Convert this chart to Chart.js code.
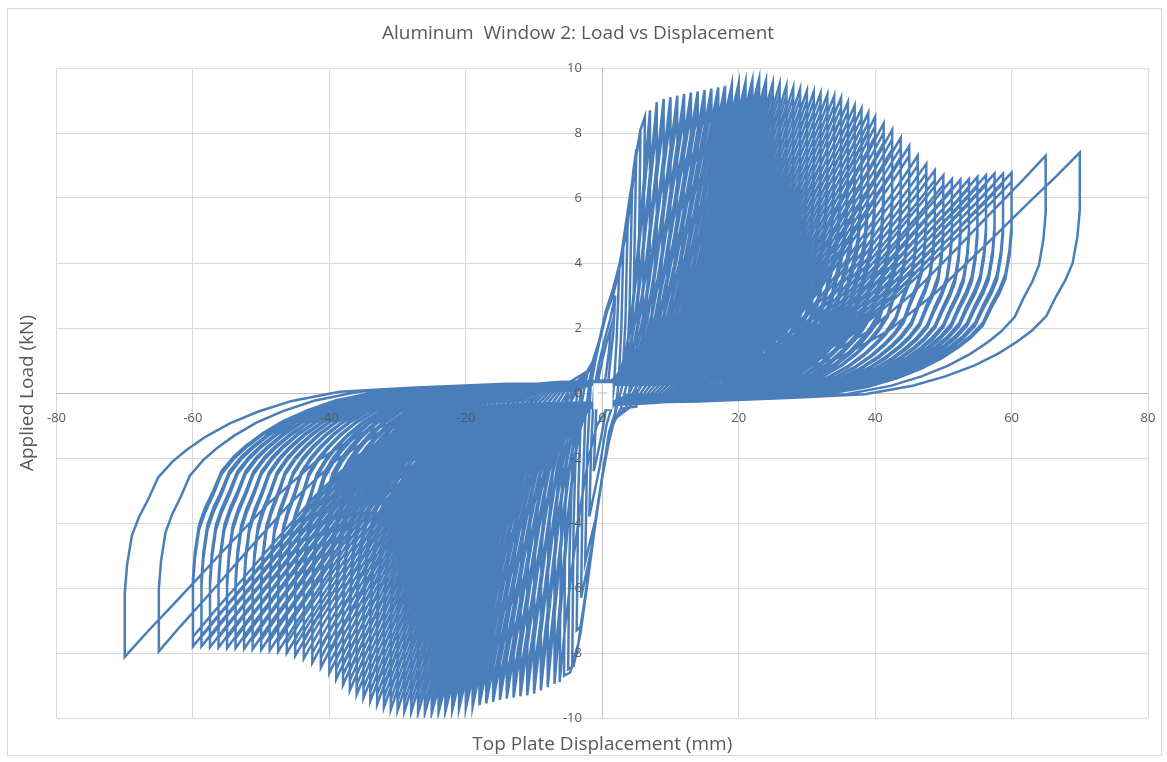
<!DOCTYPE html>
<html><head><meta charset="utf-8">
<script src="https://cdn.jsdelivr.net/npm/chart.js@4"></script>
<style>
html,body{margin:0;padding:0;background:#fff}
#wrap{position:relative;width:1167px;height:762px}
canvas{display:block}
#frame{position:absolute;left:7px;top:8px;width:1155px;height:748px;border:1px solid #d9d9d9;box-sizing:border-box;pointer-events:none}
</style>
</head><body>
<div id="wrap"><canvas id="c" width="1167" height="762"></canvas><div id="frame"></div></div>
<script>
// Axis ticks
const xTicks = [-80, -60, -40, -20, 0, 20, 40, 60, 80];
const yTicks = [-10, -8, -6, -4, -2, 0, 2, 4, 6, 8, 10];

// First small cycles near the origin, read point by point (mm, kN)
const earlyX = [
  0, 0.5, 1.0, 1.25, 0.7, 0.1, -0.5, -0.9, -1.25, -0.8, -0.2, 0.4,
  1.0, 1.6, 1.9, 1.2, 0.3, -0.5, -1.2, -1.6, -1.9, -1.3, -0.4, 0.6, 1.3,
  1.7, 2.1, 2.5, 1.6, 0.5, -0.24, -1.0, -1.7, -2.2, -2.5, -1.7, -1.0, 0.2, 1.0, 1.9,
  2.4, 2.8, 3.1, 2.4, 1.2, 0, -0.8, -1.8, -2.5, -2.9, -3.1, -2.4, -1.4, -0.3, 0.7, 2.0,
  2.9, 3.4, 3.75, 3.1, 2.2, 0.5, -0.24, -1.0, -2.2, -3.1, -3.5, -3.75, -3.2, -2.2, -1.0, 0.2, 1.0, 2.7,
  3.5, 4.0, 4.4, 3.8, 2.7, 1.2, -0.3, -1.5, -3.0, -3.8, -4.2, -4.4, -3.7, -2.5, -1.3, 0, 1.5, 3.5,
  4.0, 4.6, 5.0, 4.6, 3.7, 2.2, 0.5, -0.24, -1.0, -2.2, -3.6, -4.3, -4.8, -5.0, -4.2, -3.2, -2.2, -1.0, 0.2, 1.0, 2.7, 5.0,
  4.9, 5.3, 5.6, 5.0, 4.0, 2.6, 0.8, -0.5, -1.8, -4.0, -5.0, -5.4, -5.6, -4.7, -3.5, -2.4, -1.2, 0.4, 1.8, 4.0,
  5.8, 6.0, 6.25, 5.6, 4.6, 3.7, 2.2, 0.5, -0.24, -1.0, -2.2, -4.6, -5.6, -6.0, -6.25, -5.5, -4.5, -3.2, -2.0, -0.8, 0.5, 1.5];
const earlyY = [
  0, 0.5, 1.3, 2.0, 1.6, 1.1, 0.5, -0.6, -2.4, -2.0, -1.4, -0.7,
  0.6, 1.8, 3.0, 2.3, 1.6, 0.9, 0.1, -1.5, -3.8, -3.2, -2.3, -1.0, -0.5,
  0.2, 1.6, 3.8, 3.0, 2.4, 1.75, 1.0, 0.2, -1.8, -5.2, -4.5, -3.9, -2.3, -1.2, -0.6,
  0.3, 2.0, 4.6, 3.8, 2.9, 2.0, 1.2, 0.5, -0.8, -3.2, -6.3, -5.6, -4.6, -3.0, -1.6, -0.55,
  0.2, 2.2, 5.5, 4.6, 3.6, 2.5, 1.8, 1.1, 0.6, -0.4, -3.0, -7.3, -7.2, -5.9, -4.0, -2.3, -1.2, -0.5,
  0.2, 2.6, 6.5, 5.7, 4.1, 2.9, 1.7, 0.9, 0.3, -1.2, -4.0, -8.4, -8.0, -6.3, -4.4, -2.6, -0.9, -0.45,
  0.1, 3.0, 7.5, 6.9, 5.1, 3.6, 2.5, 1.8, 1.1, 0.67, 0.2, -1.5, -5.0, -8.5, -8.4, -7.4, -5.9, -4.0, -2.3, -1.2, -0.48, -0.42,
  0.3, 3.0, 8.1, 7.3, 5.6, 3.9, 2.6, 1.5, 0.7, 0.3, -0.6, -3.5, -8.7, -8.6, -7.7, -6.1, -4.2, -2.0, -0.8, -0.45,
  0.3, 3.5, 8.5, 8.1, 6.9, 5.1, 3.6, 2.5, 1.8, 1.1, 0.67, 0.36, -0.5, -3.5, -8.9, -7.3, -5.5, -3.5, -2.0, -1.0, -0.55, -0.45];

// Primary cycles: peak displacement (mm) and peak load (kN), read from the envelope
const posDisp = [7, 8, 9, 10, 11, 12, 13, 14, 15, 16, 17, 18, 19, 20, 21, 22, 23, 24, 25, 26, 27, 28, 29, 30,
  31, 32, 33, 34, 35, 36, 37, 38, 39, 40, 41.25, 42.5, 43.75, 45, 46.25, 47.5, 48.75, 50, 51.25, 52.5, 53.75,
  55, 56.25, 57.5, 58.75, 60, 65, 70];
const posLoad = [8.7, 8.95, 9.05, 9.1, 9.15, 9.2, 9.25, 9.28, 9.32, 9.36, 9.4, 9.45, 9.5, 9.53, 9.57, 9.62, 9.68, 9.62, 9.55, 9.5, 9.45, 9.4, 9.35, 9.3,
  9.27, 9.22, 9.18, 9.14, 9.08, 8.95, 8.85, 8.75, 8.62, 8.5, 8.3, 8.1, 7.85, 7.6, 7.3, 7.05, 6.85, 6.7, 6.58, 6.56, 6.58,
  6.65, 6.7, 6.75, 6.75, 6.78, 7.3, 7.4];
const negDisp = [-7, -8, -9, -10, -11, -12, -13, -14, -15, -16, -17, -18, -19, -20, -21, -22, -23, -24, -25, -26, -27, -28, -29, -30,
  -31, -32, -33, -34, -35, -36, -37, -38, -39, -40, -41.25, -42.5, -43.75, -45, -46.25, -47.5, -48.75, -50, -51.25, -52.5, -53.75,
  -55, -56.25, -57.5, -58.75, -60, -65, -70];
const negLoad = [-8.95, -9.05, -9.15, -9.25, -9.3, -9.33, -9.37, -9.4, -9.44, -9.5, -9.55, -9.6, -9.65, -9.7, -9.73, -9.77, -9.8, -9.83, -9.85, -9.85, -9.85, -9.82, -9.8, -9.77,
  -9.74, -9.67, -9.58, -9.48, -9.38, -9.28, -9.15, -8.98, -8.8, -8.62, -8.45, -8.3, -8.17, -8.08, -8.0, -7.95, -7.92, -7.9, -7.88, -7.87, -7.85,
  -7.85, -7.83, -7.82, -7.8, -7.8, -7.95, -8.12];

// Repeat cycles at the same displacements (estimated, slightly lower peaks)
const repPosLoadA = [8.4, 8.65, 8.75, 8.8, 8.85, 8.9, 8.95, 8.98, 9.0, 9.05, 9.1, 9.15, 9.2, 9.23, 9.27, 9.3, 9.35, 9.3, 9.25, 9.2, 9.15, 9.1, 9.05, 9.0,
  8.97, 8.92, 8.88, 8.84, 8.78, 8.65, 8.55, 8.45, 8.32, 8.2, 8.0, 7.8, 7.55, 7.3, 7.0, 6.75, 6.55, 6.4, 6.3, 6.28, 6.3,
  6.35, 6.4, 6.45, 6.45, 6.5];
const repPosLoadB = [8.1, 8.35, 8.45, 8.5, 8.55, 8.6, 8.65, 8.68, 8.7, 8.75, 8.8, 8.85, 8.9, 8.93, 8.97, 9.0, 9.05, 9.0, 8.95, 8.9, 8.85, 8.8, 8.75, 8.7,
  8.67, 8.62, 8.58, 8.54, 8.48, 8.35, 8.25, 8.15, 8.02, 7.9, 7.7, 7.5, 7.25];
const repNegLoadA = [-8.65, -8.75, -8.85, -8.95, -9.0, -9.03, -9.07, -9.1, -9.14, -9.2, -9.25, -9.3, -9.35, -9.4, -9.43, -9.47, -9.5, -9.53, -9.55, -9.55, -9.55, -9.52, -9.5, -9.47,
  -9.44, -9.37, -9.28, -9.18, -9.08, -8.98, -8.85, -8.68, -8.5, -8.32, -8.15, -8.0, -7.87, -7.78, -7.7, -7.65, -7.62, -7.6, -7.58, -7.57, -7.55,
  -7.55, -7.53, -7.52, -7.5, -7.5];
const repNegLoadB = [-8.35, -8.45, -8.55, -8.65, -8.7, -8.73, -8.77, -8.8, -8.84, -8.9, -8.95, -9.0, -9.05, -9.1, -9.13, -9.17, -9.2, -9.23, -9.25, -9.25, -9.25, -9.22, -9.2, -9.17,
  -9.14, -9.07, -8.98, -8.88, -8.78, -8.68, -8.55, -8.38, -8.2, -8.02, -7.85, -7.7, -7.57];

// Loop shape read from the outermost (70 mm) loop, as fractions of its peak
const curveU = [0.2, 0.4, 0.55, 0.65, 0.72, 0.78, 0.83, 0.87, 0.9, 0.93, 0.95, 0.97, 0.985, 0.995, 1.0, 1.0];
const curveV = [-0.035, -0.02, -0.005, 0.03, 0.07, 0.115, 0.165, 0.215, 0.26, 0.32, 0.4, 0.47, 0.54, 0.65, 0.76, 1.0];
const diagU = [0.95, 0.9, 0.854, 0.8, 0.7, 0.6, 0.5, 0.4, 0.3, 0.2, 0.1, 0];
const diagV = [0.9, 0.805, 0.716, 0.61, 0.42, 0.26, 0.15, 0.09, 0.06, 0.045, 0.04, 0.04];

const pts = [];
function addLoop(dp, fp, dn, fn) {
  for (let j = 0; j < curveU.length; j++) pts.push({x: curveU[j] * dp, y: curveV[j] * fp});
  for (let j = 0; j < diagU.length; j++) pts.push({x: diagU[j] * dp, y: diagV[j] * fp});
  for (let j = 0; j < curveU.length; j++) pts.push({x: curveU[j] * dn, y: curveV[j] * fn});
  for (let j = 0; j < diagU.length; j++) pts.push({x: diagU[j] * dn, y: diagV[j] * fn});
}
for (let i = 0; i < earlyX.length; i++) pts.push({x: earlyX[i], y: earlyY[i]});
for (let k = 0; k < posDisp.length; k++) {
  addLoop(posDisp[k], posLoad[k], negDisp[k], negLoad[k]);
  if (k < repPosLoadA.length) addLoop(posDisp[k], repPosLoadA[k], negDisp[k], repNegLoadA[k]);
  if (k < repPosLoadB.length) addLoop(posDisp[k], repPosLoadB[k], negDisp[k], repNegLoadB[k]);
}

const GREY = '#595959';
const FONT = 'Open Sans';

const originBox = {
  id: 'originBox',
  afterDatasetsDraw(chart) {
    const {ctx, scales: {x, y}} = chart;
    const l = x.getPixelForValue(-1.3), r = x.getPixelForValue(1.5);
    const t = y.getPixelForValue(0.3), b = y.getPixelForValue(-0.5);
    const x0 = x.getPixelForValue(0), y0 = y.getPixelForValue(0);
    ctx.save();
    ctx.fillStyle = '#ffffff';
    ctx.fillRect(l, t, r - l, b - t);
    ctx.strokeStyle = '#bfbfbf';
    ctx.lineWidth = 1;
    ctx.beginPath();
    ctx.moveTo(x0, t); ctx.lineTo(x0, b);
    ctx.moveTo(x0 - 5, y0); ctx.lineTo(x0 + 5, y0);
    ctx.stroke();
    ctx.restore();
  }
};

new Chart(document.getElementById('c'), {
  type: 'scatter',
  data: {
    datasets: [{
      data: pts,
      showLine: true,
      borderColor: '#4a7ebb',
      borderWidth: 2.5,
      pointRadius: 0,
      pointHoverRadius: 0,
      fill: false,
      tension: 0
    }]
  },
  options: {
    responsive: false,
    animation: false,
    layout: {padding: {left: 8, right: 19, top: 0, bottom: 4}},
    plugins: {
      legend: {display: false},
      tooltip: {enabled: false},
      title: {
        display: true,
        text: 'Aluminum  Window 2: Load vs Displacement',
        color: GREY,
        font: {family: FONT, size: 19, weight: 'normal'},
        padding: {top: 22.6, bottom: 22.6}
      }
    },
    scales: {
      x: {
        type: 'linear', min: -80, max: 80, position: {y: 0},
        afterBuildTicks: (s) => { s.ticks = xTicks.map(v => ({value: v})); },
        ticks: {color: GREY, font: {family: FONT, size: 13}, padding: 0, z: 1},
        grid: {color: '#d9d9d9', drawTicks: true, tickLength: 17, tickColor: 'rgba(0,0,0,0)', lineWidth: 1},
        border: {color: '#bfbfbf', width: 1}
      },
      y: {
        type: 'linear', min: -10, max: 10, position: {x: 0},
        afterBuildTicks: (s) => { s.ticks = yTicks.map(v => ({value: v})); },
        ticks: {color: GREY, font: {family: FONT, size: 13}, z: 1,
                callback: (v) => v + '      '},
        grid: {color: '#d9d9d9', drawTicks: false, lineWidth: 1},
        border: {color: '#bfbfbf', width: 1}
      },
      xTitle: {
        type: 'linear', position: 'bottom', min: -80, max: 80,
        ticks: {display: false},
        grid: {display: false, drawTicks: false},
        border: {display: false},
        title: {display: true, text: 'Top Plate Displacement (mm)', color: GREY,
                font: {family: FONT, size: 19}, padding: {top: 15.6, bottom: 1.6}}
      },
      yTitle: {
        type: 'linear', position: 'left', min: -10, max: 10,
        ticks: {display: false},
        grid: {display: false, drawTicks: false},
        border: {display: false},
        title: {display: true, text: 'Applied Load (kN)', color: GREY,
                font: {family: FONT, size: 19}, padding: {top: 8.6, bottom: 17.1}}
      }
    }
  },
  plugins: [originBox]
});
</script>
</body></html>
